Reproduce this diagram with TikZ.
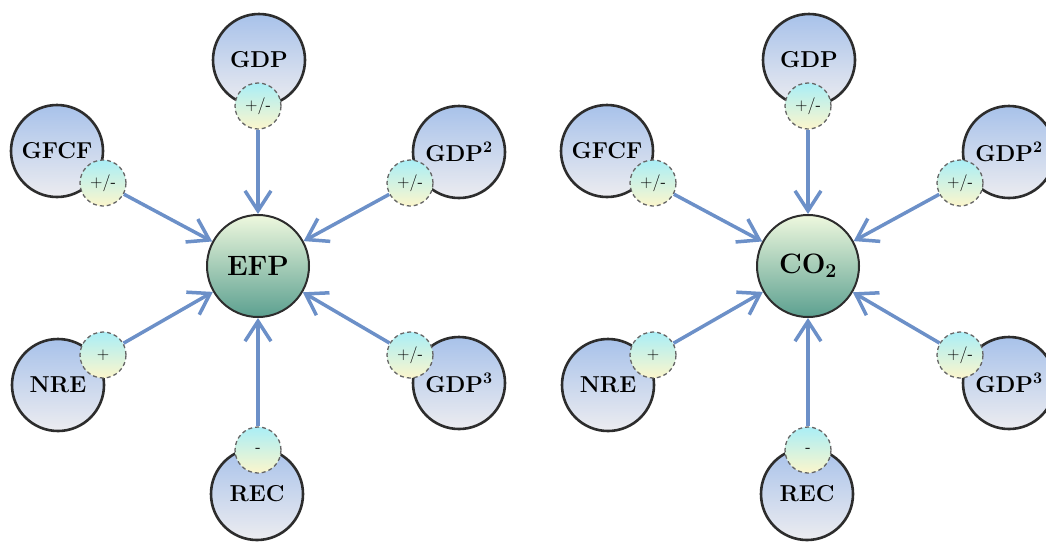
\documentclass[tikz,border=0pt]{standalone}
\usepackage{fontspec}
\usetikzlibrary{arrows.meta}
\definecolor{arrblue}{RGB}{108,144,200}
\definecolor{outtop}{RGB}{168,194,234}
\definecolor{outbot}{RGB}{236,236,240}
\definecolor{ctop}{RGB}{238,248,222}
\definecolor{cbot}{RGB}{92,160,144}
\definecolor{btop}{RGB}{170,238,246}
\definecolor{bbot}{RGB}{252,246,204}
\definecolor{rimgray}{RGB}{45,45,45}
\tikzset{
  outer/.style={circle, draw=rimgray, line width=2.6pt, top color=outtop, bottom color=outbot, minimum size=92pt, inner sep=0pt, font=\bfseries\fontsize{23}{23}\selectfont},
  hub/.style={circle, draw=rimgray, line width=2pt, top color=ctop, bottom color=cbot, minimum size=102pt, inner sep=0pt, font=\bfseries\fontsize{28}{28}\selectfont},
  badge/.style={circle, draw=black!60, dashed, dash pattern=on 4pt off 3pt, line width=1.3pt, top color=btop, bottom color=bbot, minimum size=46pt, inner sep=0pt, font=\sffamily\fontsize{17}{17}\selectfont},
  arr/.style={draw=arrblue, line width=3.5pt, -{Straight Barb[length=20pt,width=26pt]}}
}
\newcommand{\mydiag}[3]{%
\begin{scope}[xshift=#2]
  \node[hub] (#1c) at (258,266) {#3};
  \node[outer] (#1gdp) at (259,60) {GDP};
  \node[outer] (#1gfcf) at (57,151) {GFCF};
  \node[outer] (#1gdpb) at (459,152) {GDP\textsuperscript{2}};
  \node[outer] (#1nre) at (58,385) {NRE};
  \node[outer] (#1gdpc) at (459,383) {GDP\textsuperscript{3}};
  \node[outer] (#1rec) at (257,494) {REC};
  \node[badge] (#1bgdp) at (258,106) {+/-};
  \node[badge] (#1bgfcf) at (103,183) {+/-};
  \node[badge] (#1bgdpb) at (410,183) {+/-};
  \node[badge] (#1bnre) at (103,355) {+};
  \node[badge] (#1bgdpc) at (410,355) {+/-};
  \node[badge] (#1brec) at (258,450) {-};
  \draw[arr] (#1bgdp) -- (#1c);
  \draw[arr] (#1bgfcf) -- (#1c);
  \draw[arr] (#1bgdpb) -- (#1c);
  \draw[arr] (#1bnre) -- (#1c);
  \draw[arr] (#1bgdpc) -- (#1c);
  \draw[arr] (#1brec) -- (#1c);
\end{scope}}
\begin{document}
\begin{tikzpicture}[x=1pt,y=-1pt]
\useasboundingbox (0,0) rectangle (1046,542);
\clip (0,0) rectangle (1046,542);
\mydiag{l}{0pt}{EFP}
\mydiag{r}{550pt}{CO\textsubscript{2}}
\end{tikzpicture}
\end{document}
